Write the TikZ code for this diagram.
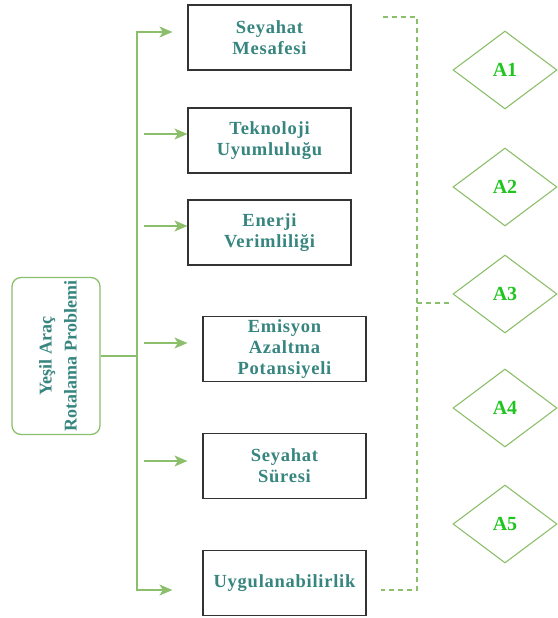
\documentclass[tikz,border=0pt]{standalone}
\usepackage{fontspec}
\setmainfont{Liberation Serif}
\usetikzlibrary{arrows.meta,positioning,calc,shapes.geometric}
\definecolor{ink}{HTML}{333333}
\definecolor{tealtx}{HTML}{36857F}
\definecolor{leaf}{HTML}{8CBF6B}
\definecolor{altx}{HTML}{1FC41F}
\tikzset{
  crit/.style={
    draw=ink, line width=1.1pt, fill=white,
    minimum width=163pt, minimum height=65pt, inner sep=2pt,
    align=center, text=tealtx,
    font=\fontsize{18.5}{21}\selectfont\bfseries\addfontfeature{LetterSpace=4}},
  root/.style={
    draw=leaf, line width=1.3pt, rounded corners=9pt,
    minimum width=88pt, minimum height=157pt,
    text=tealtx},
  alt/.style={
    diamond, draw=leaf, line width=1.1pt, aspect=1.33,
    minimum width=104pt, minimum height=78pt, inner sep=0pt,
    text=altx, font=\fontsize{20}{22}\selectfont\bfseries},
  arr/.style={-{Stealth[length=13pt,width=11pt,inset=3.5pt]}, draw=leaf, line width=1.5pt},
  trunk/.style={draw=leaf, line width=1.5pt},
  dsh/.style={draw=leaf, line width=1.3pt, dash pattern=on 5pt off 4pt},
}

\begin{document}
\begin{tikzpicture}[x=1pt, y=-1pt]
\useasboundingbox (0,0) rectangle (557,618);

% =====================================================================
\node[root] (prob) at (56,356) {};
\node[rotate=90, text=tealtx, align=center,
      font=\fontsize{18}{25}\selectfont\bfseries] at ($(prob.center)+(2,0)$)
  {Yeşil Araç\\Rotalama Problemi};

\node[crit] (b1) at (269.5,37.5) {Seyahat\\Mesafesi};
\node[crit] (b2) at (269.5,140.5) {Teknoloji\\Uyumluluğu};
\node[crit] (b3) at (269.5,232.5) {Enerji\\Verimliliği};
\node[crit] (b4) at (284.5,349) {Emisyon\\Azaltma\\Potansiyeli};
\node[crit] (b5) at (284.5,466) {Seyahat\\Süresi};
\node[crit] (b6) at (284.5,583) {Uygulanabilirlik};

% =====================================================================
\coordinate (ttop) at (137,32);
\coordinate (tbot) at (137,590);
\draw[trunk] (prob.east) -- (prob.east -| ttop);
\draw[arr, shorten >=15pt] (ttop |- tbot) -- (ttop) -- (ttop -| b1.west);
\draw[arr, shorten >=30pt] (ttop) -- (tbot) -- (tbot -| b6.west);

\coordinate (s2) at (144,134);
\coordinate (s3) at (144,226);
\coordinate (s4) at (144,343);
\coordinate (s5) at (144,461);
\foreach \s/\b/\gap in {s2/b2/0, s3/b3/0, s4/b4/15, s5/b5/15}
  \draw[arr, shorten >=\gap pt] (\s) -- (\s -| \b.west);

% =====================================================================
\foreach \i/\y in {1/70, 2/187, 3/294, 4/408, 5/524}
  \node[alt] (a\i) at (505,\y) {A\i};

\coordinate (dtop) at (417,17);
\coordinate (dbot) at (417,590);
\coordinate (dmid) at (417,303);
\draw[dsh] ($(b1.east)+(31,-20.5)$) -- (dtop) -- (dbot) -- ($(b6.east)+(14,7)$);
\draw[dsh] (dmid) -- (dmid -| a3.west);

\end{tikzpicture}
\end{document}
